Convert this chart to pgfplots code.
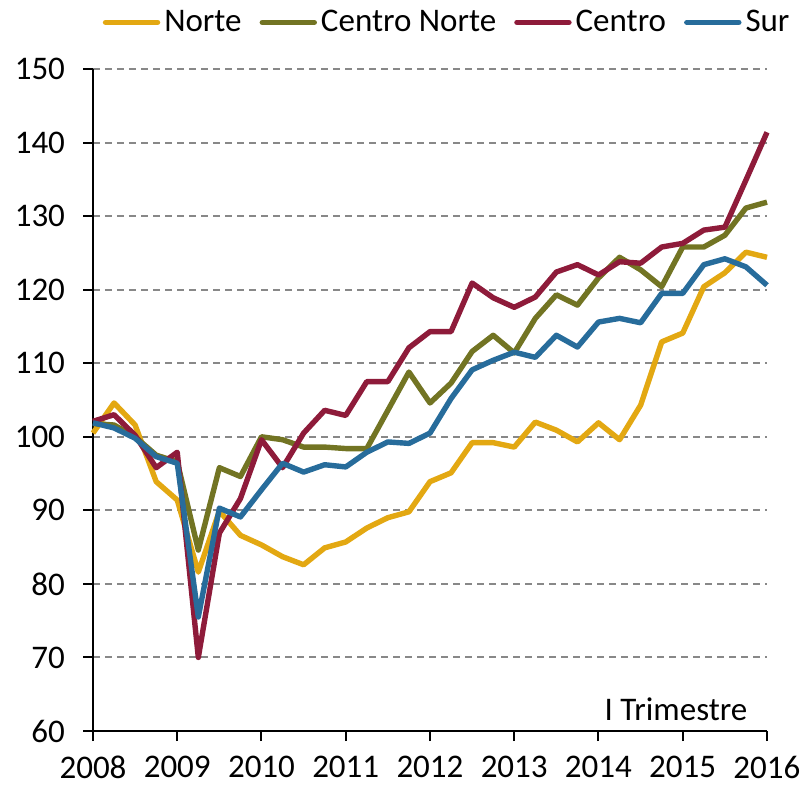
\documentclass[border=0pt]{standalone}
\usepackage{pgfplots}
\pgfplotsset{compat=1.18}
\usepackage{fontspec}
\setmainfont{Carlito}
\definecolor{cNorte}{HTML}{E3A812}
\definecolor{cCN}{HTML}{727423}
\definecolor{cCentro}{HTML}{8E1B3A}
\definecolor{cSur}{HTML}{276C9B}
\definecolor{gridc}{HTML}{888888}
\pgfplotstableread{
x norte cnorte centro sur
2008.00 100.5 101.8 102.1 101.9
2008.25 104.6 101.6 103.0 101.2
2008.50 101.6 100.0 100.2 99.8
2008.75 93.9 97.5 95.8 97.3
2009.00 91.4 96.6 97.9 96.4
2009.25 81.6 84.6 70.0 75.5
2009.50 89.9 95.8 86.9 90.3
2009.75 86.6 94.6 91.6 89.1
2010.00 85.3 100.0 99.6 92.8
2010.25 83.7 99.6 95.8 96.4
2010.50 82.6 98.6 100.5 95.2
2010.75 84.9 98.6 103.6 96.2
2011.00 85.7 98.4 102.9 95.9
2011.25 87.6 98.4 107.5 97.9
2011.50 89.0 103.6 107.5 99.3
2011.75 89.8 108.8 112.1 99.1
2012.00 93.9 104.6 114.3 100.5
2012.25 95.1 107.3 114.3 105.2
2012.50 99.2 111.6 120.9 109.1
2012.75 99.2 113.8 118.9 110.4
2013.00 98.6 111.4 117.6 111.5
2013.25 102.0 116.1 119.0 110.8
2013.50 100.9 119.3 122.4 113.8
2013.75 99.3 117.9 123.4 112.2
2014.00 101.9 121.6 122.0 115.6
2014.25 99.6 124.4 123.8 116.1
2014.50 104.3 122.7 123.6 115.5
2014.75 112.9 120.4 125.8 119.5
2015.00 114.1 125.8 126.3 119.5
2015.25 120.4 125.8 128.1 123.4
2015.50 122.3 127.4 128.5 124.2
2015.75 125.1 131.1 134.9 123.1
2016.00 124.4 131.9 141.4 120.6
}\datatable
\begin{document}
\begin{tikzpicture}
\useasboundingbox (-46.5pt,-28pt) rectangle (355pt,365.5pt);
\begin{axis}[
  width=337pt, height=331pt, scale only axis,
  xmin=2008, xmax=2016, ymin=60, ymax=150,
  axis x line*=bottom, axis y line*=left,
  axis line style={black, line width=1pt},
  xtick={2008,...,2016}, ytick={60,70,...,150},
  tick align=outside, major tick length=5pt,
  tick style={black, line width=1pt},
  x tick label style={/pgf/number format/1000 sep={}},
  /pgf/number format/assume math mode=true,
  tick label style={font=\fontsize{16.5}{19}\selectfont},
  yticklabel style={xshift=-5.5pt},
  xticklabel style={yshift=-4pt},
  ymajorgrids,
  grid style={gridc, line width=1pt, dash pattern=on 3.5pt off 2.5pt},
  legend columns=4,
  legend style={at={(0.527,1)}, anchor=south, yshift=13pt, draw=none, fill=none,
    font=\fontsize{16.5}{19}\selectfont,
    /tikz/every even column/.append style={column sep=7pt}},
  legend image code/.code={\draw[#1, line cap=round] (0pt,0pt) -- (26pt,0pt);},
  every axis plot/.append style={line width=2.7pt, line join=round},
  clip=false,
]
\addplot[cNorte] table[x=x,y=norte]{\datatable};
\addlegendentry{Norte}
\addplot[cCN] table[x=x,y=cnorte]{\datatable};
\addlegendentry{Centro Norte}
\addplot[cCentro] table[x=x,y=centro]{\datatable};
\addlegendentry{Centro}
\addplot[cSur] table[x=x,y=sur]{\datatable};
\addlegendentry{Sur}
\node[anchor=east, font=\fontsize{16.5}{19}\selectfont] at (axis cs:2015.85,62.9) {I Trimestre};
\end{axis}
\end{tikzpicture}
\end{document}
